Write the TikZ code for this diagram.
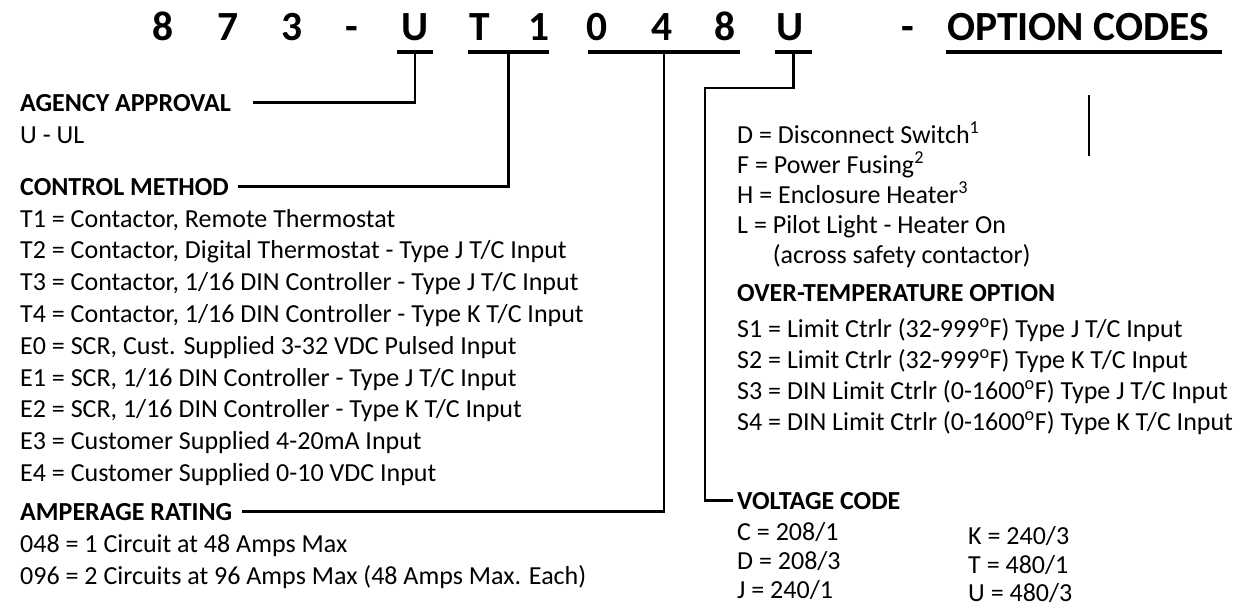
\documentclass[tikz,border=0pt]{standalone}
\usepackage{fontspec}
\setmainfont{Carlito}
\usetikzlibrary{positioning}

\begin{document}
\begin{tikzpicture}[x=1pt, y=-1pt,
  title/.style={font=\fontsize{41.5}{42}\selectfont\bfseries, anchor=base, inner sep=0pt},
  head/.style={font=\fontsize{26}{31}\selectfont\bfseries, anchor=base west, inner sep=0pt},
  item/.style={font=\fontsize{26}{31}\selectfont, anchor=base west, inner sep=0pt},
  bar/.style={line width=4.5pt},
  link/.style={line width=2.2pt}]
  \useasboundingbox (0,0) rectangle (1246,607);

  % part number
  \foreach \ch/\x [count=\i] in {8/163, 7/228, 3/292, -/352, U/415, T/480, 1/539, 0/597, 4/662, 8/725, U/790, -/908} {
    \node[title] (t\i) at (\x,41) {\ch};
  }
  \node[title, anchor=base west] (opt) at (947,41) {OPTION CODES};

  % underlines
  \foreach \a/\b/\n in {397/433/ua, 468/549/uc, 588/740/ur, 775/812/uv, 946/1222/uo} {
    \draw[bar] (\a,52) -- (\b,52) coordinate[midway] (\n);
  }

  % left column
  \node[head] (agency) at (20,111) {AGENCY APPROVAL};
  \node[item] (ul) at (20,143) {U - UL};
  \node[head] (control) at (20,195) {CONTROL METHOD};
  \foreach \txt [count=\i] in {
      {T1 = Contactor, Remote Thermostat},
      {T2 = Contactor, Digital Thermostat - Type J T/C Input},
      {T3 = Contactor, 1/16 DIN Controller - Type J T/C Input},
      {T4 = Contactor, 1/16 DIN Controller - Type K T/C Input},
      {E0 = SCR, Cust. Supplied 3-32 VDC Pulsed Input},
      {E1 = SCR, 1/16 DIN Controller - Type J T/C Input},
      {E2 = SCR, 1/16 DIN Controller - Type K T/C Input},
      {E3 = Customer Supplied 4-20mA Input},
      {E4 = Customer Supplied 0-10 VDC Input}} {
    \node[item] (cm\i) at (20,{227+31.8*(\i-1)}) {\txt};
  }
  \node[head] (amp) at (20,520) {AMPERAGE RATING};
  \node[item] (a1) at (20,552) {048 = 1 Circuit at 48 Amps Max};
  \node[item] (a2) at (20,584) {096 = 2 Circuits at 96 Amps Max (48 Amps Max. Each)};

  % right column
  \node[item] (o1) at (737,143) {D = Disconnect Switch\textsuperscript{1}};
  \node[item] (o2) at (737,173) {F = Power Fusing\textsuperscript{2}};
  \node[item] (o3) at (737,203) {H = Enclosure Heater\textsuperscript{3}};
  \node[item] (o4) at (737,233) {L = Pilot Light - Heater On};
  \node[item] (o5) at (737,263) {\phantom{L = }(across safety contactor)};
  \node[head] (over) at (737,301) {OVER-TEMPERATURE OPTION};
  \foreach \txt [count=\i] in {
      {S1 = Limit Ctrlr (32-999\textsuperscript{o}F) Type J T/C Input},
      {S2 = Limit Ctrlr (32-999\textsuperscript{o}F) Type K T/C Input},
      {S3 = DIN Limit Ctrlr (0-1600\textsuperscript{o}F) Type J T/C Input},
      {S4 = DIN Limit Ctrlr (0-1600\textsuperscript{o}F) Type K T/C Input}} {
    \node[item] (s\i) at (737,{337+31*(\i-1)}) {\txt};
  }
  \node[head] (volt) at (737,509) {VOLTAGE CODE};
  \foreach \l/\y [count=\i] in {{C = 208/1}/540, {D = 208/3}/569, {J = 240/1}/598} {
    \node[item] (v\i) at (737,\y) {\l};
  }
  \foreach \l/\y [count=\i] in {{K = 240/3}/544, {T = 480/1}/573, {U = 480/3}/601} {
    \node[item] (w\i) at (968,\y) {\l};
  }

  % connectors
  \coordinate (bend) at (705,88);
  \draw[link] (ua) |- ([xshift=22pt]agency.east);
  \draw[link] (uc) |- ([xshift=9pt]control.east);
  \draw[link] (ur) |- ([xshift=10pt]amp.east);
  \draw[link] (uv) |- (bend) |- ([xshift=-4pt]volt.west);
  \draw[link] (1089,95) -- (1089,156);
\end{tikzpicture}
\end{document}
